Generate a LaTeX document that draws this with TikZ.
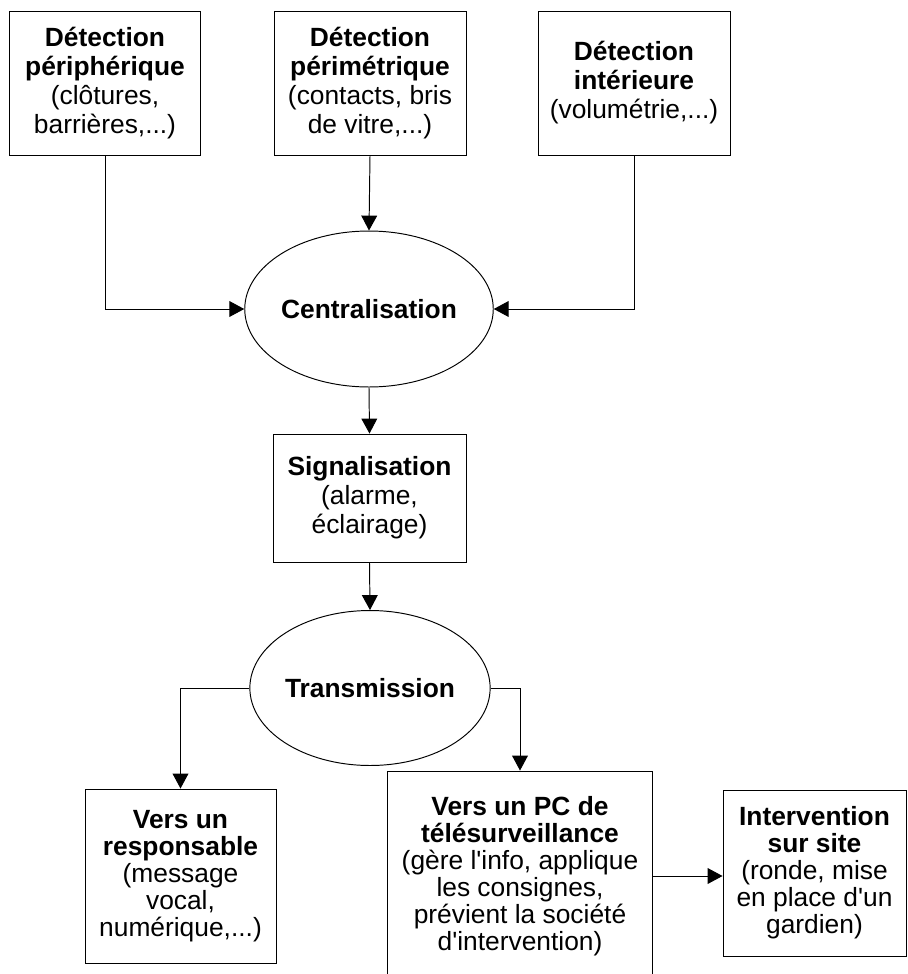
\documentclass[tikz,border=0pt]{standalone}
\usepackage{fontspec}
\setmainfont{Liberation Sans}
\usetikzlibrary{arrows.meta,shapes.geometric}
\tikzset{
  bloc/.style={draw, line width=0.55pt, align=center, inner sep=0pt, font=\fontsize{15}{16.5}\selectfont},
  blocbas/.style={bloc, font=\fontsize{15}{15.4}\selectfont},
  rond/.style={draw, ellipse, line width=0.55pt, inner sep=0pt, font=\fontsize{15}{16.5}\selectfont\bfseries},
  fleche/.style={line width=0.55pt, -{Triangle[length=8.5pt,width=9pt]}},
}

\begin{document}
\begin{tikzpicture}[x=0.02cm, y=-0.02cm]
		%%%%% START %%%%%
		\useasboundingbox (0,0) rectangle (907,974);
		\clip (0,0) rectangle (907,974);
		
		% detection
		\node[bloc, minimum width=3.84cm, minimum height=2.88cm] (peri) at (105, 83) {\textbf{Détection}\\\textbf{périphérique}\\(clôtures,\\barrières,...)};
		\node[bloc, minimum width=3.84cm, minimum height=2.88cm] (perim) at (370, 83) {\textbf{Détection}\\\textbf{périmétrique}\\(contacts, bris\\de vitre,...)};
		\node[bloc, minimum width=3.84cm, minimum height=2.88cm] (inter) at (634, 83) {\textbf{Détection}\\\textbf{intérieure}\\(volumétrie,...)};
		
		\node[rond, minimum width=4.64cm, minimum height=3.12cm] (centr) at (369, 309) {Centralisation};
		
		\node[bloc, minimum width=3.86cm, minimum height=2.56cm] (signal) at (369.5, 498) {\textbf{Signalisation}\\(alarme,\\éclairage)};
		
		\node[rond, minimum width=4.68cm, minimum height=3.10cm] (trans) at (370, 688) {Transmission};
		
		% destinataires
		\node[blocbas, minimum width=3.82cm, minimum height=3.48cm] (resp) at (180.5, 876) {\textbf{Vers un}\\\textbf{responsable}\\(message\\vocal,\\numérique,...)};
		\node[blocbas, minimum width=5.32cm, minimum height=4.20cm] (pc) at (520, 876) {\textbf{Vers un PC de}\\\textbf{télésurveillance}\\(gère l\textquotesingle info, applique\\les consignes,\\prévient la société\\d\textquotesingle intervention)};
		\node[blocbas, minimum width=3.66cm, minimum height=3.32cm] (site) at (814.5, 873) {\textbf{Intervention}\\\textbf{sur site}\\(ronde, mise\\en place d\textquotesingle un\\gardien)};
		
		\draw[fleche] (peri.south) |- (centr.west);
		\draw[fleche] (perim.south) -- (centr.north);
		\draw[fleche] (inter.south) |- (centr.east);
		
		\draw[fleche] (centr.south) -- (signal.north);
		\draw[fleche] (signal.south) -- (trans.north);
		
		\draw[fleche] (trans.west) -| (resp.north);
		\draw[fleche] (trans.east) -| (pc.north);
		\draw[fleche] (pc.east) -- (pc.east -| site.west);
		
		%%%%% END %%%%%
\end{tikzpicture}
\end{document}
